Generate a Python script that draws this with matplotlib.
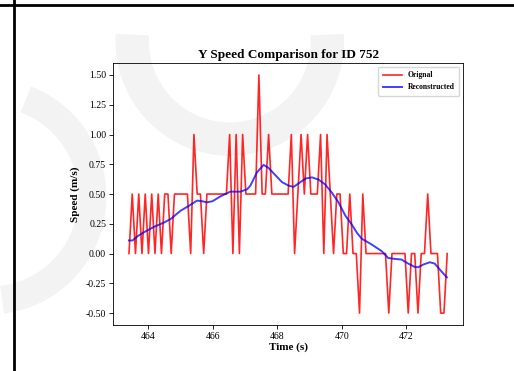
import numpy as np
import matplotlib
matplotlib.use("Agg")
import matplotlib.pyplot as plt
from matplotlib.patches import Arc

# original speed samples (m/s), one every ~0.1 s starting at t_start
t_start = 463.41
dt = 0.1006
orig_speed = [0, 0.5, 0, 0.5, 0, 0.5, 0, 0.5, 0, 0.5,
              0, 0.5, 0.5, 0, 0.5, 0.5, 0.5, 0.5, 0.5, 0,
              1.0, 0.5, 0.5, 0, 0.5, 0.5, 0.5, 0.5, 0.5, 0.5,
              0.5, 1.0, 0, 1.0, 0, 1.0, 0.5, 0.5, 0.5, 0.5,
              1.5, 0.5, 0.5, 1.0, 0.5, 0.5, 0.5, 0.5, 0.5, 0.5,
              1.0, 0, 0.5, 1.0, 0.5, 1.0, 0.5, 0.5, 0.5, 1.0,
              0, 1.0, 0.5, 0, 0.5, 0.5, 0, 0, 0.5, 0,
              0, -0.5, 0.5, 0, 0, 0, 0, 0, 0, 0,
              -0.5, 0, 0, 0, 0, 0, -0.5, 0, 0, -0.5,
              0, 0, 0.5, 0, 0, 0, -0.5, -0.5, 0]

recon_time = [463.41, 463.52, 463.67, 463.88, 464.19, 464.49, 464.70, 465.01,
              465.32, 465.52, 465.67, 465.83, 466.00, 466.24, 466.55, 466.86,
              467.07, 467.17, 467.37, 467.58, 467.73, 467.94, 468.15, 468.36,
              468.51, 468.72, 468.88, 469.08, 469.29, 469.49, 469.70, 469.90,
              470.11, 470.31, 470.47, 470.62, 470.93, 471.24, 471.44, 471.65,
              471.85, 472.06, 472.26, 472.37, 472.52, 472.73, 472.88, 473.09,
              473.26]
recon_speed = [0.11, 0.11, 0.145, 0.18, 0.225, 0.26, 0.29, 0.36,
               0.41, 0.445, 0.44, 0.43, 0.44, 0.48, 0.52, 0.52,
               0.54, 0.57, 0.68, 0.745, 0.72, 0.66, 0.60, 0.57,
               0.56, 0.60, 0.63, 0.64, 0.62, 0.58, 0.51, 0.43,
               0.32, 0.245, 0.175, 0.125, 0.076, 0.02, -0.037, -0.045,
               -0.05, -0.084, -0.112, -0.115, -0.093, -0.073, -0.084, -0.15,
               -0.2]

orig_time = t_start + dt * np.arange(len(orig_speed))

plt.rcParams['font.family'] = ['Liberation Serif', 'DejaVu Serif']

fig = plt.figure(figsize=(5.14, 3.71), dpi=100)

# faint page watermark and frame lines
wm = '#f3f3f3'
fig.patches.append(Arc((0.447, 0.89), 0.38, 0.53, theta1=175, theta2=365,
                       transform=fig.transFigure, color=wm, lw=24, zorder=0))
fig.patches.append(Arc((-0.02, 0.47), 0.40, 0.56, theta1=-85, theta2=75,
                       transform=fig.transFigure, color=wm, lw=20, zorder=0))
fig.add_artist(plt.Line2D([0, 1], [0.986, 0.986], transform=fig.transFigure,
                          color='black', lw=2, zorder=1))
fig.add_artist(plt.Line2D([0.028, 0.028], [0, 1], transform=fig.transFigure,
                          color='black', lw=2, zorder=1))

ax = fig.add_axes([0.22, 0.124, 0.681, 0.706])
ax.set_zorder(2)
ax.patch.set_alpha(0)
ax.plot(orig_time, orig_speed, color='red', lw=1.2, alpha=0.85, label='Orignal')
ax.plot(recon_time, recon_speed, color='blue', lw=1.4, alpha=0.75, label='Reconstructed')

ax.set_title('Y Speed Comparison for ID 752', fontsize=9.5, fontweight='bold', pad=4)
ax.set_xlabel('Time (s)', fontsize=8, fontweight='bold', labelpad=1)
ax.set_ylabel('Speed (m/s)', fontsize=8, fontweight='bold', labelpad=4)
ax.set_xticks([464, 466, 468, 470, 472])
ax.set_yticks([-0.5, -0.25, 0, 0.25, 0.5, 0.75, 1.0, 1.25, 1.5])
ax.yaxis.set_major_formatter(matplotlib.ticker.FormatStrFormatter('%.2f'))
ax.tick_params(labelsize=7, length=3, width=0.6, pad=2)
for s in ax.spines.values():
    s.set_linewidth(0.6)

leg = ax.legend(loc='upper right', prop={'size': 5.5, 'weight': 'bold'},
                handlelength=2.5, borderpad=0.6, labelspacing=0.5)

fig.savefig('out.png', dpi=100)
